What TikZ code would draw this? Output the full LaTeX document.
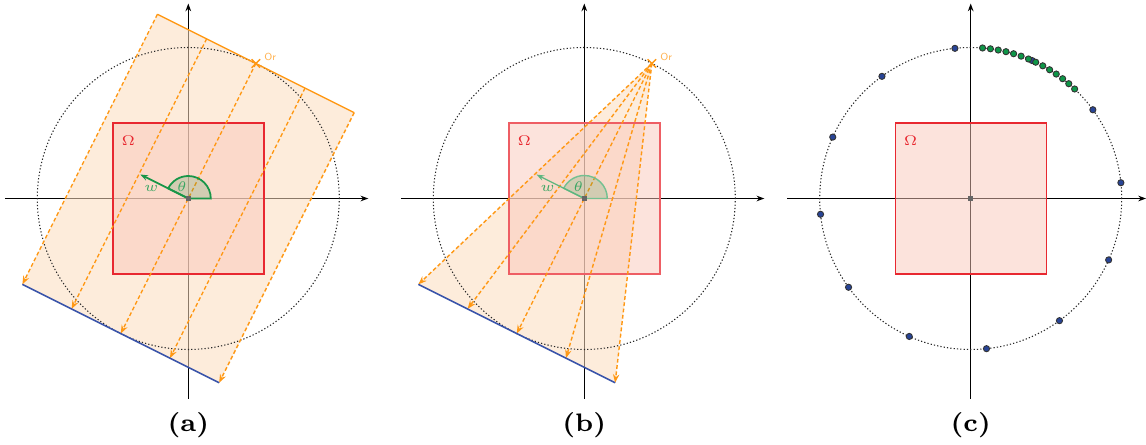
\documentclass[tikz,border=0pt]{standalone}
\usepackage{graphicx}
\usepackage{tikz}
\usetikzlibrary{arrows.meta,shapes.misc}

\definecolor{rayorange}{RGB}{255,152,20}
\definecolor{bandfill}{RGB}{252,222,190}
\definecolor{omegared}{RGB}{232,40,48}
\definecolor{omegafill}{RGB}{251,200,186}
\definecolor{detblue}{RGB}{58,84,170}
\definecolor{wgreen}{RGB}{24,150,72}
\definecolor{dotblue}{RGB}{40,68,150}
\definecolor{dotgreen}{RGB}{14,150,72}

% math labels are set at 5pt and shrunk
\newcommand{\tinylbl}[1]{\scalebox{0.8}{$#1$}}

\begin{document}
\begin{tikzpicture}[
  x=1cm,
  y=1cm,
  axis/.style={line width=0.35pt, -{Stealth[length=2.2pt,width=1.6pt]}},
  support/.style={line width=0.3pt, black!85, dash pattern=on 0.35pt off 0.6pt},
  ray/.style={rayorange, line width=0.4pt, dash pattern=on 1.1pt off 0.7pt, -{Stealth[length=2.4pt,width=1.8pt]}},
  band/.style={fill=bandfill, fill opacity=0.55},
  omega/.style={draw=omegared, line width=0.4pt, fill=omegafill, fill opacity=0.5},
  detector/.style={detblue, line width=0.45pt},
  source/.style={cross out, draw=rayorange, line width=0.4pt, minimum size=0.7mm, inner sep=0pt},
  wvec/.style={wgreen, line width=0.5pt, -{Stealth[length=2.2pt,width=1.6pt]}},
  sector/.style={draw=wgreen, line width=0.5pt, fill=wgreen, fill opacity=0.18},
  lbl/.style={font=\fontsize{5}{6}\selectfont, inner sep=0pt},
  orlbl/.style={font=\fontsize{2.9}{3.5}\selectfont\sffamily, text=rayorange!75, inner sep=0pt},
  panel/.style={font=\fontsize{7.2}{9}\selectfont\bfseries},
  origin/.style={rectangle, fill=black!60, inner sep=0pt, minimum size=0.5mm},
  sample/.style={circle, draw=black!80, line width=0.25pt, inner sep=0pt, minimum size=0.62mm}
]

% White background
\fill[white] (0,0) rectangle (11.46,4.44);
\useasboundingbox (0,0) rectangle (11.46,4.44);

% ---------------- Panel (a): parallel beam ----------------
\begin{scope}[shift={(1.883,2.455)}]
  \coordinate (oa) at (0,0);
  \draw[axis] (-1.835,0) -- (1.8,0);
  \draw[axis] (0,-2.0) -- (0,1.95);

  % source and detector points, rotated frame
  \begin{scope}[rotate=-26.565]
    \foreach \i/\t in {1/-1.1,2/-0.55,3/0,4/0.55,5/1.1} {
      \coordinate (sa\i) at (\t,1.51);
      \coordinate (da\i) at (\t,-1.51);
    }
  \end{scope}

  \fill[band] (sa1) -- (sa5) -- (da5) -- (da1) -- cycle;
  \filldraw[omega] (-0.755,-0.755) rectangle (0.755,0.755);
  \draw[support] (oa) circle (1.51);

  \foreach \i in {1,...,5} {
    \draw[ray] (sa\i) -- (da\i);
  }
  \draw[rayorange, line width=0.4pt] (sa1) -- (sa5);
  \draw[detector] (da1) -- (da5);
  \node[source] (ora) at (sa3) {};
  \node[orlbl] (ora-l) at (0.82,1.42) {Or};

  % angle and direction
  \coordinate (wa) at (153.435:0.537);
  \filldraw[sector] (oa) -- (0.225,0) arc (0:153.435:0.225) -- cycle;
  \draw[wvec] (oa) -- (wa);
  \node[lbl, text=wgreen!85] (wa-l) at (-0.37,0.097) {\tinylbl{w}};
  \node[lbl, text=wgreen!85] (tha-l) at (-0.063,0.123) {\tinylbl{\theta}};
  \node[lbl, text=omegared] (omga-l) at (-0.6,0.575) {\tinylbl{\Omega}};
  \node[origin] (oa-p) at (oa) {};

  \node[panel] (pa) at (0,-2.265) {(a)};
\end{scope}

% ---------------- Panel (b): fan beam ----------------
\begin{scope}[shift={(5.843,2.455)}]
  \coordinate (ob) at (0,0);
  \draw[axis] (-1.835,0) -- (1.8,0);
  \draw[axis] (0,-2.0) -- (0,1.95);

  \begin{scope}[rotate=-26.565]
    \coordinate (sb) at (0,1.51);
    \foreach \i/\t in {1/-1.1,2/-0.55,3/0,4/0.55,5/1.1} {
      \coordinate (db\i) at (\t,-1.51);
    }
  \end{scope}

  \fill[band] (sb) -- (db5) -- (db1) -- cycle;
  \filldraw[omega, draw=omegared!75] (-0.755,-0.755) rectangle (0.755,0.755);
  \draw[support] (ob) circle (1.51);

  \foreach \i in {1,...,5} {
    \draw[ray] (sb) -- (db\i);
  }
  \draw[detector] (db1) -- (db5);
  \node[source] (orb) at (sb) {};
  \node[orlbl] (orb-l) at (0.82,1.42) {Or};

  \coordinate (wb) at (153.435:0.535);
  \filldraw[sector, draw=wgreen!60, line width=0.4pt] (ob) -- (0.23,0) arc (0:153.435:0.23) -- cycle;
  \draw[wvec, wgreen!70, line width=0.35pt] (ob) -- (wb);
  \node[lbl, text=wgreen!85] (wb-l) at (-0.366,0.097) {\tinylbl{w}};
  \node[lbl, text=wgreen!85] (thb-l) at (-0.06,0.123) {\tinylbl{\theta}};
  \node[lbl, text=omegared] (omgb-l) at (-0.6,0.575) {\tinylbl{\Omega}};
  \node[origin] (ob-p) at (ob) {};

  \node[panel] (pb) at (0,-2.265) {(b)};
\end{scope}

% ---------------- Panel (c): sampled angles ----------------
\begin{scope}[shift={(9.707,2.455)}]
  \coordinate (oc) at (0,0);
  \draw[axis] (-1.835,0) -- (1.753,0);
  \draw[axis] (0,-2.0) -- (0,1.95);

  \filldraw[omega] (-0.755,-0.755) rectangle (0.755,0.755);
  \draw[support] (oc) circle (1.51);

  % uniform samples
  \foreach \a [count=\k] in {6,36,...,336} {
    \node[sample, fill=dotblue] (blue\k) at (\a:1.51) {};
  }
  % dense samples
  \foreach \a [count=\k] in {46.5,49.5,...,85.5} {
    \node[sample, fill=dotgreen] (green\k) at (\a:1.51) {};
  }

  \node[lbl, text=omegared] (omgc-l) at (-0.6,0.575) {\tinylbl{\Omega}};
  \node[origin] (oc-p) at (oc) {};

  \node[panel] (pc) at (0,-2.265) {(c)};
\end{scope}

\end{tikzpicture}
\end{document}
